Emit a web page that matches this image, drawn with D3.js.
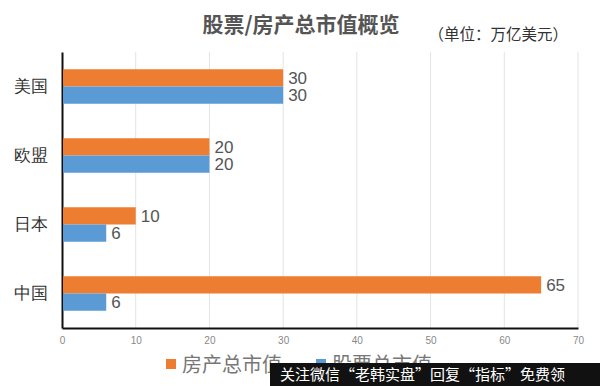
<!DOCTYPE html>
<html>
<head>
<meta charset="utf-8">
<script src="https://cdn.jsdelivr.net/npm/d3@7"></script>
<style>
  body { margin: 0; background: #fff; }
  svg { display: block; font-family: "Noto Sans CJK SC", "Noto Sans", sans-serif; }
</style>
</head>
<body>
<div id="chart"></div>
<script>
'use strict';

var categories = ['美国', '欧盟', '日本', '中国'];
var seriesNames = ['房产总市值', '股票总市值'];
var houseValues = [30, 20, 10, 65];
var stockValues = [30, 20, 6, 6];
var xTicks = [0, 10, 20, 30, 40, 50, 60, 70];
var colors = ['#ED7D31', '#5B9BD5'];

var width = 600, height = 386;
var margin = {top: 52, right: 22, bottom: 58, left: 62};

var svg = d3.select('#chart')
  .append('svg')
  .attr('width', width)
  .attr('height', height);

var x = d3.scaleLinear()
  .domain([0, 70])
  .range([margin.left, width - margin.right]);

var y = d3.scaleBand()
  .domain(categories)
  .range([margin.top, height - margin.bottom])
  .paddingInner(0.5)
  .paddingOuter(0.25);

var ySub = d3.scaleBand()
  .domain(seriesNames)
  .range([0, y.bandwidth()]);

// grid lines
svg.append('g')
  .selectAll('line')
  .data(xTicks.slice(1))
  .enter()
  .append('line')
  .attr('x1', function (d) { return x(d); })
  .attr('x2', function (d) { return x(d); })
  .attr('y1', margin.top)
  .attr('y2', height - margin.bottom)
  .attr('stroke', '#e3e3e3')
  .attr('stroke-width', 1);

// bottom axis
var xAxis = svg.append('g')
  .attr('transform', 'translate(0,' + (height - margin.bottom) + ')')
  .call(d3.axisBottom(x).tickValues(xTicks).tickSize(0).tickPadding(9));
xAxis.select('.domain').attr('stroke', '#111').attr('stroke-width', 2);
xAxis.selectAll('text')
  .attr('fill', '#888')
  .style('font-size', '10px')
  .style('font-family', 'Liberation Sans, sans-serif');

// left axis
var yAxis = svg.append('g')
  .attr('transform', 'translate(' + margin.left + ',0)')
  .call(d3.axisLeft(y).tickSize(0).tickPadding(14));
yAxis.select('.domain').attr('stroke', '#111').attr('stroke-width', 2);
yAxis.selectAll('text')
  .attr('fill', '#333')
  .style('font-size', '17px');

var rows = categories.map(function (c, i) {
  return {cat: c, values: [houseValues[i], stockValues[i]]};
});

var groups = svg.selectAll('.row')
  .data(rows)
  .enter()
  .append('g')
  .attr('class', 'row')
  .attr('transform', function (d) { return 'translate(0,' + y(d.cat) + ')'; });

groups.selectAll('rect')
  .data(function (d) {
    return d.values.map(function (v, j) { return {name: seriesNames[j], v: v, j: j}; });
  })
  .enter()
  .append('rect')
  .attr('x', x(0) + 1)
  .attr('y', function (d) { return ySub(d.name); })
  .attr('width', function (d) { return x(d.v) - x(0) - 1; })
  .attr('height', ySub.bandwidth())
  .attr('fill', function (d) { return colors[d.j]; });

groups.selectAll('text')
  .data(function (d) {
    return d.values.map(function (v, j) { return {name: seriesNames[j], v: v}; });
  })
  .enter()
  .append('text')
  .attr('x', function (d) { return x(d.v) + 5; })
  .attr('y', function (d) { return ySub(d.name) + ySub.bandwidth() / 2; })
  .attr('dy', '0.36em')
  .attr('fill', '#555')
  .style('font-size', '17px')
  .style('font-family', 'Liberation Sans, sans-serif')
  .text(function (d) { return d.v; });

// title
svg.append('text')
  .attr('x', 301)
  .attr('y', 32)
  .attr('text-anchor', 'middle')
  .attr('fill', '#555')
  .style('font-size', '21px')
  .style('font-weight', 'bold')
  .text('股票/房产总市值概览');

svg.append('text')
  .attr('x', 568)
  .attr('y', 40)
  .attr('text-anchor', 'end')
  .attr('fill', '#333')
  .style('font-size', '15.5px')
  .text('（单位：万亿美元）');

// legend
var legend = svg.append('g')
  .selectAll('g')
  .data(seriesNames)
  .enter()
  .append('g')
  .attr('transform', function (d, i) { return 'translate(' + (166 + i * 150) + ',365)'; });
legend.append('rect')
  .attr('x', 0).attr('y', -6)
  .attr('width', 10).attr('height', 10)
  .attr('fill', function (d, i) { return colors[i]; });
legend.append('text')
  .attr('x', 16)
  .attr('y', 0)
  .attr('dy', '0.35em')
  .attr('fill', '#777')
  .style('font-size', '20px')
  .text(function (d) { return d; });

// overlay banner
svg.append('rect')
  .attr('x', 270).attr('y', 363)
  .attr('width', 330).attr('height', 23)
  .attr('fill', '#111');
svg.append('text')
  .attr('x', 280)
  .attr('y', 375)
  .attr('dy', '0.35em')
  .attr('fill', '#fff')
  .style('font-size', '15px')
  .text('关注微信“老韩实盘”回复“指标”免费领');
</script>
</body>
</html>
